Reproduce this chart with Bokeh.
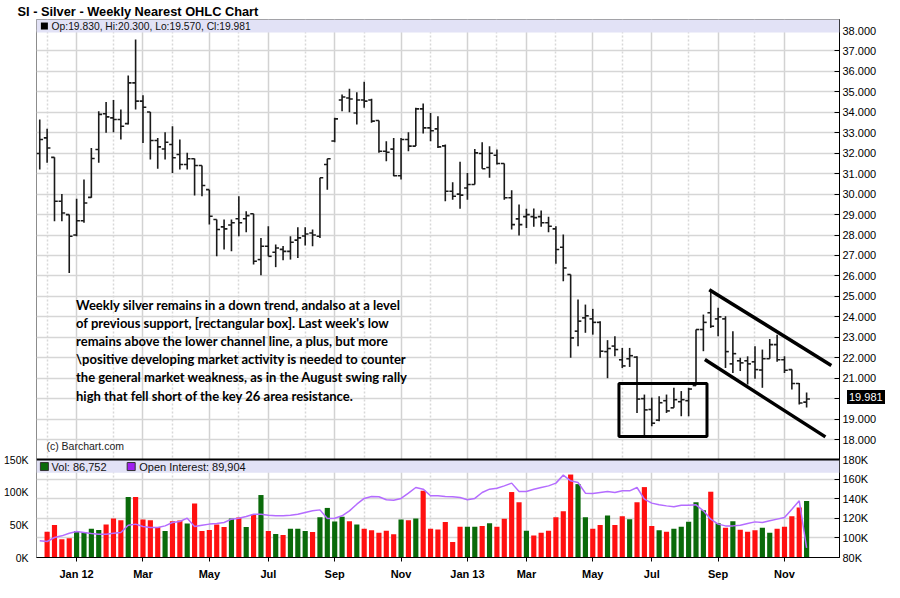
import numpy as np
import pandas as pd
from bokeh.plotting import figure
from bokeh.layouts import column
from bokeh.models import (Range1d, LinearAxis, FixedTicker, PrintfTickFormatter,
                          Label, BoxAnnotation, Span, Div)
from bokeh.core.properties import value
from bokeh.embed import file_html
from bokeh.resources import INLINE

# ---------------- data (weekly bars) ----------------
first_week = "2011-11-28"

opens = [31.99, 32.75, 31.80, 29.65, 29.00, 28.00, 28.70, 29.84, 32.18, 33.93,
         33.73, 33.65, 33.45, 35.44, 34.55, 34.02, 32.62, 32.21, 32.43, 31.94,
         31.45, 31.73, 31.40, 30.22, 28.76, 28.40, 28.49, 28.80, 28.80, 29.04,
         26.80, 27.45, 27.16, 27.30, 27.20, 27.75, 27.95, 28.10, 27.94, 31.45,
         32.60, 34.60, 34.70, 33.97, 34.60, 34.60, 33.60, 32.10, 32.20, 30.90,
         32.67, 32.35, 34.17, 33.24, 33.19, 32.36, 30.14, 30.00, 30.30, 30.47,
         31.99, 31.30, 31.90, 31.50, 29.82, 28.79, 28.90, 28.90, 28.90, 28.60,
         28.30, 27.40, 26.07, 23.30, 23.95, 23.90, 23.73, 22.30, 22.57, 21.90,
         21.95, 22.03, 20.00, 19.47, 18.95, 19.90, 19.55, 19.85, 19.90, 20.64,
         23.38, 24.20, 23.90, 23.90, 21.70, 21.85, 21.85, 21.80, 21.40, 21.95,
         22.64, 21.90, 21.42, 20.74, 19.83]
highs = [33.65, 33.20, 31.80, 30.01, 29.00, 29.77, 30.71, 32.26, 34.05, 34.50,
         34.60, 34.14, 35.80, 37.56, 34.84, 34.02, 32.75, 33.03, 33.32, 32.67,
         32.02, 31.74, 31.40, 30.22, 28.76, 28.76, 28.76, 29.90, 29.16, 29.04,
         27.86, 28.43, 27.54, 27.47, 27.94, 28.38, 28.38, 28.27, 30.80, 31.73,
         33.73, 34.87, 35.15, 34.98, 35.49, 34.66, 33.60, 32.59, 32.75, 32.75,
         33.03, 34.22, 34.43, 33.97, 33.81, 32.43, 30.58, 31.58, 31.04, 32.21,
         32.54, 32.34, 32.18, 31.50, 30.19, 29.49, 29.28, 29.30, 29.20, 28.90,
         28.43, 28.03, 26.07, 24.85, 24.60, 24.39, 23.79, 22.86, 23.05, 22.48,
         22.48, 22.07, 20.20, 20.05, 20.12, 20.20, 20.53, 20.37, 20.53, 23.38,
         24.11, 25.33, 24.44, 24.03, 23.30, 22.00, 22.07, 22.56, 22.40, 22.92,
         23.13, 22.07, 21.42, 20.77, 20.30]
lows = [31.20, 31.53, 28.67, 28.67, 26.15, 27.94, 28.60, 29.82, 31.53, 33.00,
        33.03, 32.67, 33.40, 34.14, 32.50, 31.69, 31.24, 31.69, 31.04, 31.20,
        31.20, 29.93, 29.90, 28.51, 26.96, 27.29, 27.21, 27.94, 28.14, 26.56,
        26.03, 26.96, 26.43, 26.77, 26.80, 26.88, 27.49, 27.45, 27.86, 30.22,
        32.54, 34.05, 34.00, 33.40, 34.22, 33.49, 32.02, 31.61, 30.88, 30.71,
        32.10, 32.35, 32.96, 32.59, 32.26, 29.65, 29.73, 29.28, 29.73, 30.47,
        31.24, 30.80, 31.45, 29.73, 28.27, 27.98, 28.35, 28.40, 28.40, 28.14,
        26.60, 25.74, 22.00, 22.56, 23.22, 23.13, 22.00, 21.00, 22.07, 21.50,
        21.55, 19.30, 18.16, 18.65, 18.90, 19.30, 19.55, 19.14, 19.14, 20.64,
        22.32, 23.46, 23.05, 21.50, 21.26, 21.35, 20.69, 20.97, 20.53, 21.95,
        21.80, 21.26, 20.45, 19.71, 19.57]
closes = [32.67, 32.26, 29.65, 29.08, 27.94, 28.70, 29.57, 31.74, 33.90, 33.78,
          33.65, 33.32, 35.44, 34.55, 34.25, 32.62, 32.31, 32.54, 31.78, 31.45,
          31.73, 31.40, 30.42, 28.92, 28.27, 28.30, 28.60, 28.60, 28.95, 26.72,
          27.45, 26.96, 27.37, 27.20, 27.65, 27.86, 28.05, 28.00, 30.80, 31.73,
          33.68, 34.75, 34.65, 34.60, 34.55, 33.57, 32.10, 32.05, 30.90, 32.67,
          32.35, 34.17, 33.24, 33.10, 32.31, 30.14, 29.90, 29.95, 30.47, 32.02,
          31.24, 32.00, 31.50, 29.82, 28.51, 28.51, 29.00, 28.85, 28.60, 28.43,
          27.29, 26.39, 22.97, 23.79, 24.05, 23.73, 22.32, 22.45, 22.40, 21.60,
          22.10, 19.98, 19.45, 18.80, 19.80, 19.40, 19.95, 19.95, 20.47, 23.38,
          23.73, 23.54, 24.00, 22.30, 22.20, 21.75, 21.70, 21.42, 21.95, 22.64,
          21.90, 21.39, 20.74, 19.79, 19.981]
volume_k = [np.nan, 39.6, 49.8, 27.9, 29.5, 40.7, 39.1, 44.2, 42.2, 50.8,
            60.0, 57.4, 93.0, 93.0, 58.4, 57.4, 46.7, 40.7, 55.9, 56.9,
            52.3, 82.8, 40.7, 42.2, 50.8, 46.7, 60.0, 61.5, 46.7, 66.1,
            96.0, 40.7, 36.1, 34.6, 44.2, 44.2, 40.7, 39.1, 62.0, 76.2,
            55.4, 62.5, 55.9, 50.8, 44.2, 41.7, 38.1, 41.2, 35.6, 58.4,
            57.4, 60.0, 102.6, 44.2, 43.2, 54.4, 23.9, 47.3, 47.3, 47.3,
            48.3, 52.8, 47.3, 59.5, 100.6, 84.9, 41.2, 34.0, 38.1, 41.2,
            62.0, 71.1, 127.5, 112.8, 62.0, 44.2, 49.8, 64.5, 49.8, 63.5,
            58.9, 84.9, 108.2, 48.3, 41.7, 39.6, 44.2, 47.3, 54.9, 84.9,
            72.7, 101.1, 52.8, 45.7, 55.9, 42.7, 39.6, 41.7, 45.7, 38.1,
            44.2, 47.3, 63.5, 76.7, 86.752]
open_interest_k = [97.1, 96.4, 100.5, 102.2, 104.9, 106.6, 105.6, 104.6, 103.9, 103.9,
                   104.9, 105.6, 113.1, 114.2, 111.8, 110.7, 110.7, 112.4, 115.9, 116.9,
                   120.3, 111.8, 113.1, 114.2, 114.8, 115.9, 119.3, 120.3, 122.0, 124.4,
                   124.4, 123.4, 122.7, 122.7, 123.4, 124.4, 126.1, 127.8, 128.8, 120.0,
                   120.3, 122.7, 127.8, 134.6, 140.5, 142.5, 142.2, 139.1, 138.7, 140.5,
                   145.9, 151.7, 150.0, 143.2, 143.2, 142.5, 142.2, 141.5, 139.1, 140.5,
                   146.6, 150.0, 151.0, 153.4, 156.2, 147.6, 147.6, 150.0, 151.7, 153.4,
                   156.2, 164.4, 158.6, 156.8, 145.9, 145.6, 146.6, 147.6, 146.6, 148.3,
                   148.3, 151.7, 139.8, 135.7, 134.0, 132.9, 131.9, 133.6, 133.6, 134.0,
                   127.8, 119.3, 114.2, 112.4, 112.4, 113.1, 114.8, 116.5, 115.9, 117.6,
                   119.3, 121.0, 129.5, 138.1, 89.904]

price_ticks = list(range(18, 39))
oi_ticks = [80, 100, 120, 140, 160, 180]
oi_grid_ticks = [100, 120, 140, 160]
vol_ticks = [0, 50, 100, 150]

note_lines = [
    "Weekly silver remains in a down trend, andalso at a level",
    "of previous support, [rectangular box].  Last week's low",
    "remains above the lower channel line, a plus, but more",
    "\\positive developing market activity is needed to counter",
    "the general market weakness, as in the August swing rally",
    "high that fell short of the key 26 area resistance.",
]
# analyst drawings (bar index, price)
box_left, box_right, box_bottom, box_top = [78.55], [90.49], [18.15], [20.74]
channel_x0, channel_y0 = [90.8, 90.2], [25.33, 21.91]
channel_x1, channel_y1 = [107.35, 106.55], [21.62, 18.13]

# ---------------- derived ----------------
n = len(closes)
dates = pd.date_range(first_week, periods=n, freq="7D")
idx = np.arange(n, dtype=float)
o = np.array(opens); h = np.array(highs); l = np.array(lows); c = np.array(closes)
vol = np.array(volume_k, dtype=float)
oi = np.array(open_interest_k)

month_starts = [i for i in range(1, n) if dates[i].month != dates[i - 1].month]
labeled = [i for i in month_starts if dates[i].month % 2 == 1]
unlabeled = [i for i in month_starts if dates[i].month % 2 == 0]
month_labels = {i: (dates[i].strftime("%b %y") if dates[i].month == 1 else dates[i].strftime("%b"))
                for i in labeled}

RED = "#ff1010"
GREEN = "#0a6a0a"
vol_colors = [GREEN if cc >= oo else RED for oo, cc in zip(opens, closes)]

# ---------------- layout geometry ----------------
FRAME_H = 538
FRAME_W = 812
BORDER_L = 27
FRAME_TOP = 12                                  # observed frame top inside the canvas
PX_PER_PRICE = 20.45
PRICE_TOP = 38.54
PRICE_BOT = PRICE_TOP - FRAME_H / PX_PER_PRICE
SEP = PRICE_TOP - 440 / PX_PER_PRICE          # border between price and volume panes
LOWER_H = 97.6                                  # px height of volume pane
VOL_TOP = 150 * FRAME_H / LOWER_H
OI_TOP = 80 + 100 * FRAME_H / LOWER_H

def oi_to_price(v):
    return round(PRICE_BOT + (v - 80) / (OI_TOP - 80) * (PRICE_TOP - PRICE_BOT), 6)

FONT = "Liberation Sans"

p = figure(width=884, height=582, x_range=Range1d(-0.44, 108.46),
           y_range=Range1d(PRICE_BOT, PRICE_TOP),
           output_backend="svg", toolbar_location=None,
           y_axis_location="right", x_axis_location="below",
           min_border_left=BORDER_L, min_border_right=45, min_border_top=16, min_border_bottom=22,
           title="SI - Silver - Weekly Nearest OHLC Chart")
p.title.text_font = FONT
p.title.text_font_size = "12.8px"
p.title.text_font_style = "bold"
p.title.text_color = "black"
p.title.align = "left"
p.title.offset = -19
p.title.standoff = 2
p.background_fill_color = "white"
p.border_fill_color = "white"
p.outline_line_color = "#8c8c8c"

p.extra_y_ranges = {"vol": Range1d(0, VOL_TOP), "oi": Range1d(80, OI_TOP)}

# right axis: price ticks + open-interest ticks (the last-price box replaces the 20.000 label)
oi_tick_prices = [oi_to_price(v) for v in oi_ticks]
ra = p.yaxis[0]
ra.ticker = FixedTicker(ticks=[float(t) for t in price_ticks] + oi_tick_prices)
ra.formatter = PrintfTickFormatter(format="%.3f")
overrides = {tp: f"{v}K" for tp, v in zip(oi_tick_prices, oi_ticks)}
overrides[float(round(closes[-1]))] = ""
ra.major_label_overrides = overrides
ra.major_tick_in = 5
ra.major_tick_out = 0
ra.minor_tick_line_color = None
ra.axis_line_color = "black"
ra.major_tick_line_color = "black"
ra.major_label_text_font = FONT
ra.major_label_text_font_size = "11px"
ra.major_label_text_color = "black"
ra.major_label_standoff = 3

# left axis: volume
la = LinearAxis(y_range_name="vol", ticker=FixedTicker(ticks=vol_ticks),
                formatter=PrintfTickFormatter(format="%dK"))
la.axis_line_color = None
la.major_tick_line_color = None
la.minor_tick_line_color = None
la.major_label_text_font = FONT
la.major_label_text_font_size = "10.5px"
la.major_label_text_color = "black"
la.major_label_standoff = 2
p.add_layout(la, "left")

# bottom axis: months
xa = p.xaxis[0]
xa.ticker = FixedTicker(ticks=labeled, minor_ticks=unlabeled)
xa.major_label_overrides = month_labels
xa.major_label_text_font = FONT
xa.major_label_text_font_size = "11px"
xa.major_label_text_font_style = "bold"
xa.major_label_text_color = "black"
xa.major_tick_out = 4
xa.major_tick_in = 0
xa.minor_tick_line_color = None
xa.axis_line_color = "black"
xa.major_label_standoff = 6

# grids
p.xgrid.ticker = FixedTicker(ticks=labeled, minor_ticks=unlabeled)
p.xgrid.grid_line_color = "#d2d2d2"
p.xgrid.grid_line_width = 1.5
p.xgrid.minor_grid_line_color = "#d8d8d8"
p.xgrid.minor_grid_line_dash = "2 2"
p.xgrid.minor_grid_line_width = 1.5
p.ygrid.ticker = FixedTicker(ticks=[float(t) for t in price_ticks] +
                             [oi_to_price(v) for v in oi_grid_ticks])
p.ygrid.grid_line_color = "#d6d6d6"
p.ygrid.grid_line_width = 1.5

# ---- price bars (OHLC) ----
BAR = "#1a1a1a"
p.segment(x0=idx, y0=l, x1=idx, y1=h, line_color=BAR, line_width=1.6)
p.segment(x0=idx - 0.45, y0=o, x1=idx, y1=o, line_color=BAR, line_width=1.6)
p.segment(x0=idx, y0=c, x1=idx + 0.45, y1=c, line_color=BAR, line_width=1.6)

# ---- volume & open interest ----
p.vbar(x=idx, top=vol, bottom=0, width=0.7, fill_color=vol_colors, line_color=None,
       y_range_name="vol")
p.line(x=idx, y=oi, line_color="#b46cff", line_width=1.5, y_range_name="oi")

# ---- analyst drawings ----
p.quad(left=box_left, right=box_right, bottom=box_bottom, top=box_top,
       fill_color=None, line_color="black", line_width=3)
p.segment(x0=channel_x0, y0=channel_y0, x1=channel_x1, y1=channel_y1,
          line_color="black", line_width=3.5)

note_y0 = 24.60
note_step = 18.2 / PX_PER_PRICE
p.text(x=[4.92] * len(note_lines), y=[note_y0 - i * note_step for i in range(len(note_lines))],
       text=note_lines, text_font=value("Lato"), text_font_style="bold",
       text_font_size="13px", text_color="black", text_baseline="middle", text_align="left")

p.text(x=[0.9], y=[17.66], text=["(c) Barchart.com"], text_font=value(FONT),
       text_font_size="10.5px", text_color="#222222", text_baseline="middle")

# ---- header bands ----
p.add_layout(BoxAnnotation(bottom=37.90, top=PRICE_TOP, fill_color="#e2e2f6", fill_alpha=1,
                           line_color=None))
band_lo = 38 - (473.3 - 31) / PX_PER_PRICE
p.add_layout(BoxAnnotation(bottom=band_lo, top=SEP, fill_color="#e2e2f6", fill_alpha=1,
                           line_color=None))
p.add_layout(Span(location=SEP, dimension="width", line_color="black", line_width=2))

hdr_y = 38.22
p.scatter(x=[0.63], y=[hdr_y], marker="square", size=7, fill_color="black", line_color=None,
          level="overlay")
hdr_txt = f"Op:{opens[-1]:.3f}, Hi:{highs[-1]:.3f}, Lo:{lows[-1]:.3f}, Cl:{closes[-1]:.3f}"
p.add_layout(Label(x=1.6, y=hdr_y, text=hdr_txt, text_font=FONT, text_font_size="10.3px",
                   text_color="#111111", text_baseline="middle"))

leg_y = 38 - (467 - 31) / PX_PER_PRICE
p.scatter(x=[0.63], y=[leg_y], marker="square", size=8, fill_color=GREEN, line_color="#333333",
          level="overlay")
p.add_layout(Label(x=1.6, y=leg_y, text=f"Vol: {round(volume_k[-1] * 1000):,}", text_font=FONT,
                   text_font_size="11px", text_color="#111111", text_baseline="middle"))
p.scatter(x=[12.4], y=[leg_y], marker="square", size=8, fill_color="#a020f0", line_color="#333333",
          level="overlay")
p.add_layout(Label(x=13.5, y=leg_y, text=f"Open Interest: {round(open_interest_k[-1] * 1000):,}",
                   text_font=FONT, text_font_size="11px", text_color="#111111",
                   text_baseline="middle"))

# last price box on the right axis (annotations are clipped to the frame, so use a Div overlay)
last_cy = FRAME_TOP + (PRICE_TOP - closes[-1]) * PX_PER_PRICE
last_box = Div(text=f"{closes[-1]:.3f}",
               styles={"position": "absolute", "left": f"{BORDER_L + FRAME_W + 3}px",
                       "top": f"{last_cy - 7:.1f}px", "background-color": "black",
                       "color": "white", "font-family": FONT, "font-size": "11px",
                       "line-height": "14px", "padding": "0px 2px", "z-index": "10"})

open("out.html", "w").write(file_html(column(p, last_box, spacing=0), INLINE))
